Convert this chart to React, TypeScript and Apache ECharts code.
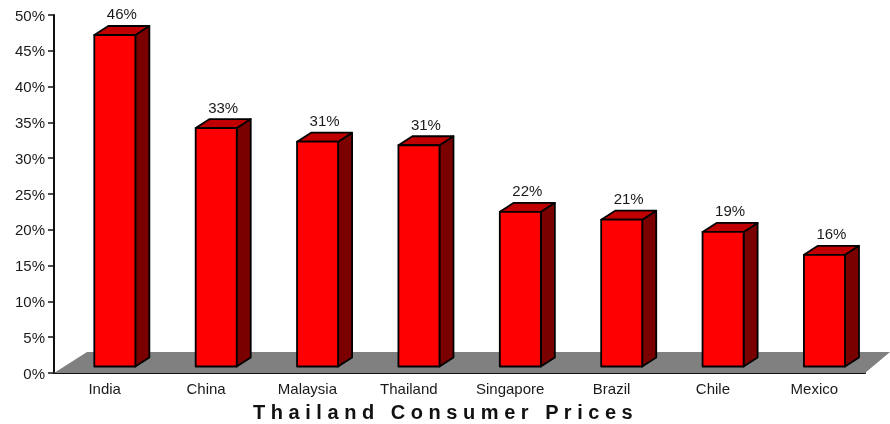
import React, { useEffect, useRef } from "react";
import * as echarts from "echarts";

const categories = ["India", "China", "Malaysia", "Thailand", "Singapore", "Brazil", "Chile", "Mexico"];
const values = [46.3, 33.3, 31.4, 30.9, 21.6, 20.5, 18.8, 15.6];
const chartTitle = "T h a i l a n d   C o n s u m e r   P r i c e s";
const font = '"Liberation Sans", Arial, sans-serif';

export default function App() {
  const ref = useRef<HTMLDivElement>(null);
  useEffect(() => {
    document.body.style.margin = "0";
    const chart = echarts.init(ref.current!, null, { renderer: "svg" });

    const renderFloor = (params: any) => {
      const cs = params.coordSys;
      const b = cs.y + cs.height;
      const r = cs.x + cs.width;
      return {
        type: "polygon",
        shape: { points: [[cs.x, b], [r, b], [r + 25, b - 21], [cs.x + 33, b - 21]] },
        style: { fill: "#808080", stroke: "none" },
      };
    };

    const renderBar = (_p: any, api: any) => {
      const i = api.value(0);
      const v = api.value(1);
      const base = api.coord([i, 0]);
      const top = api.coord([i, v]);
      const bandW = api.size([1, 0])[0];
      const w = bandW * 0.405;
      const dx = 14;
      const dy = 9;
      const x0 = base[0] + bandW * 0.1;
      const left = x0 - w / 2;
      const right = x0 + w / 2;
      const lift = 6.5;
      const yb = base[1] - lift;
      const yt = top[1] - lift;
      const lineStyle = { stroke: "#000", lineWidth: 1.8, lineJoin: "round" };
      return {
        type: "group",
        children: [
          {
            type: "polygon",
            shape: { points: [[right, yt], [right + dx, yt - dy], [right + dx, yb - dy], [right, yb]] },
            style: { fill: "#7a0000", ...lineStyle },
          },
          {
            type: "polygon",
            shape: { points: [[left, yt], [left + dx, yt - dy], [right + dx, yt - dy], [right, yt]] },
            style: { fill: "#c00000", ...lineStyle },
          },
          {
            type: "rect",
            shape: { x: left, y: yt, width: w, height: yb - yt },
            style: { fill: "#ff0000", ...lineStyle },
          },
          {
            type: "text",
            style: {
              text: Math.round(v) + "%",
              x: x0 + dx / 2,
              y: yt - dy - 12,
              textAlign: "center",
              textVerticalAlign: "middle",
              fill: "#1a1a1a",
              font: `15px ${font}`,
            },
          },
        ],
      };
    };

    chart.setOption({
      animation: false,
      backgroundColor: "#fff",
      title: {
        text: chartTitle,
        left: 253,
        top: 402,
        padding: 0,
        textStyle: { fontFamily: font, fontSize: 20, fontWeight: "bold", color: "#111" },
      },
      grid: { left: 54, right: 25, top: 15, bottom: 51 },
      xAxis: {
        type: "category",
        data: categories,
        axisLine: { lineStyle: { color: "#111", width: 2 } },
        axisTick: { length: 5, lineStyle: { color: "#111", width: 1.5 } },
        axisLabel: { color: "#1a1a1a", fontFamily: font, fontSize: 15, margin: 8, interval: 0 },
      },
      yAxis: {
        type: "value",
        min: 0,
        max: 50,
        interval: 5,
        axisLine: { show: true, lineStyle: { color: "#111", width: 2 } },
        axisTick: { show: true, length: 6, lineStyle: { color: "#111", width: 1.5 } },
        axisLabel: { color: "#1a1a1a", fontFamily: font, fontSize: 15, margin: 9, formatter: "{value}%" },
        splitLine: { show: false },
      },
      series: [
        { type: "custom", renderItem: renderFloor, data: [[0, 0]], clip: false, z: 1, silent: true },
        {
          type: "custom",
          renderItem: renderBar,
          data: values.map((v, i) => [i, v]),
          encode: { x: 0, y: 1 },
          clip: false,
          z: 2,
        },
      ],
    });
    return () => chart.dispose();
  }, []);
  return <div ref={ref} style={{ width: 890, height: 424, filter: "blur(0.5px)" }} />;
}
